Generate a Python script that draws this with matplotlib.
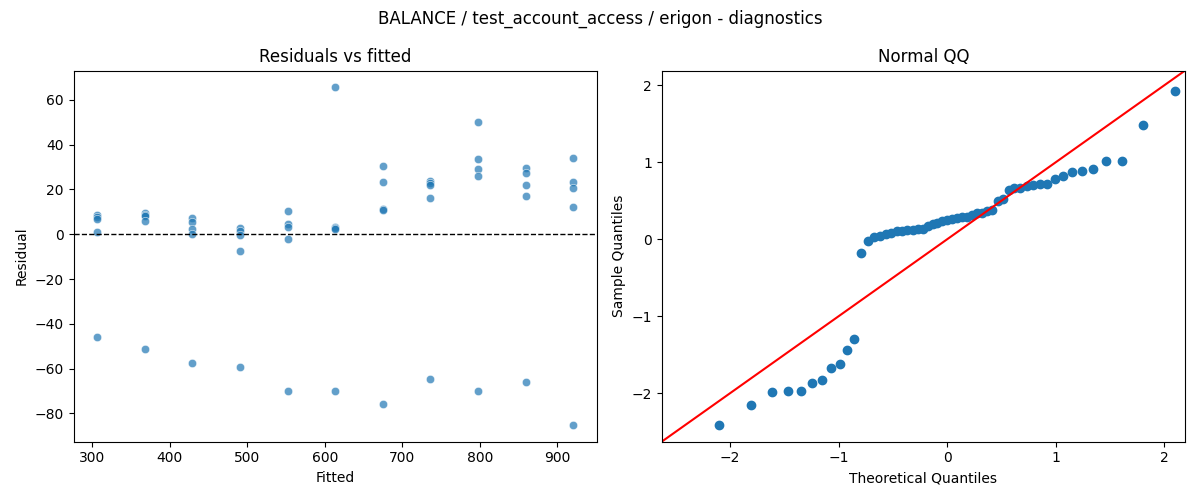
import numpy as np
import matplotlib
matplotlib.use("Agg")
import matplotlib.pyplot as plt
import seaborn as sns
from statistics import NormalDist

# ---- data ----
fitted_levels = [306.5, 367.9, 429.3, 490.7, 552.1, 613.5, 674.9, 736.3, 797.7, 859.1, 920.5]
residual_groups = [
    [8.6, 7.7, 6.7, 1.2, -46.0],
    [9.4, 8.6, 8.3, 6.1, -51.2],
    [7.1, 5.5, 2.5, 0.3, -57.5],
    [2.8, 1.4, -0.4, -7.4, -59.1],
    [10.4, 4.6, 3.4, -2.2, -69.8],
    [65.5, 3.3, 2.9, 2.5, -70.2],
    [30.4, 23.2, 11.3, 10.6, -76.0],
    [23.7, 22.7, 21.8, 16.0, -64.6],
    [49.9, 33.7, 29.0, 25.8, -69.8],
    [29.5, 27.2, 21.8, 16.9, -65.8],
    [33.9, 23.3, 20.8, 12.0, -85.1],
]

suptitle = "BALANCE / test_account_access / erigon - diagnostics"

fitted = []
residuals = []
for lvl, grp in zip(fitted_levels, residual_groups):
    for r in grp:
        fitted.append(lvl)
        residuals.append(r)
fitted = np.array(fitted)
residuals = np.array(residuals)

# QQ (statsmodels-style: fit loc/scale, plotting positions i/(n+1))
n = len(residuals)
sorted_res = np.sort(residuals)
loc, scale = sorted_res.mean(), sorted_res.std()
sample_q = (sorted_res - loc) / scale
theo_q = np.array([NormalDist().inv_cdf(i / (n + 1)) for i in range(1, n + 1)])

fig, (ax1, ax2) = plt.subplots(1, 2, figsize=(12, 5), dpi=100)

sns.scatterplot(x=fitted, y=residuals, ax=ax1, alpha=0.7)
ax1.axhline(0, color="black", linestyle="--", linewidth=1)
ax1.set_title("Residuals vs fitted")
ax1.set_xlabel("Fitted")
ax1.set_ylabel("Residual")

ax2.plot(theo_q, sample_q, "o", color="C0")
lims = (-2.63, 2.19)
ax2.plot(lims, lims, color="red")
ax2.set_xlim(lims)
ax2.set_ylim(lims)
ax2.set_title("Normal QQ")
ax2.set_xlabel("Theoretical Quantiles")
ax2.set_ylabel("Sample Quantiles")

fig.suptitle(suptitle)
fig.tight_layout()
fig.savefig("out.png", dpi=100)
